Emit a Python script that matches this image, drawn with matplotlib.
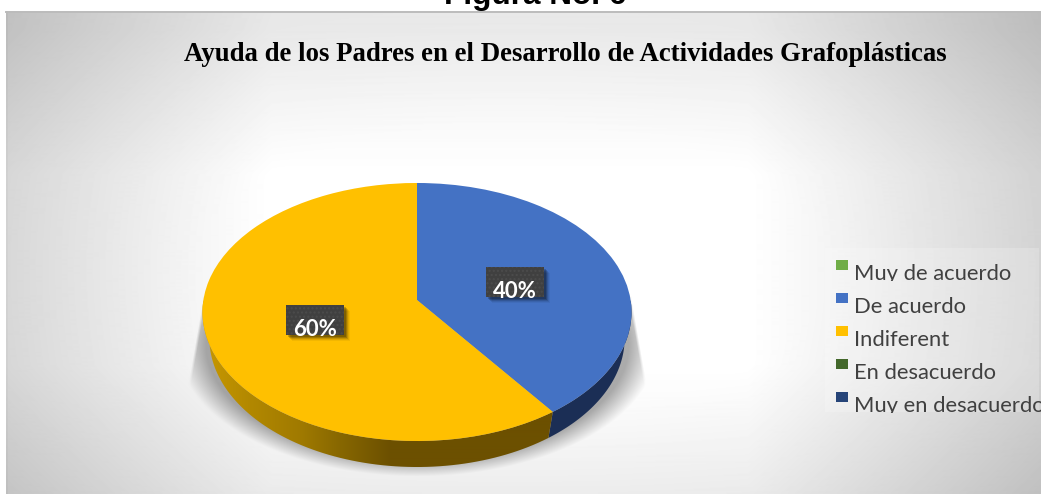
import numpy as np
import matplotlib
matplotlib.use("Agg")
import matplotlib.pyplot as plt
from matplotlib.patches import Rectangle, Polygon
from matplotlib.transforms import Transform

categories = ["Muy de acuerdo", "De acuerdo", "Indiferent", "En desacuerdo", "Muy en desacuerdo"]
values = [0, 40, 60, 0, 0]
colors = ["#70ad47", "#4472c4", "#ffc000", "#43682b", "#264478"]
chart_title = "Ayuda de los Padres en el Desarrollo de Actividades Grafoplásticas"
figure_label = "Figura No. 6"

W, H = 1041, 494
CX, CY, A, B, K = 417.0, 300.0, 213.6, 127.9, 0.093
DEPTH, SHRINK = 26.0, 0.968
LEFT, TOP = 6, 12


def project(u, v):
    d = 1 + K * v
    return CX + A * u / d, CY - B * v / d


class Perspective(Transform):
    input_dims = output_dims = 2
    def transform_non_affine(self, xy):
        xy = np.asarray(xy, float)
        x, y = project(xy[:, 0], xy[:, 1])
        return np.column_stack([x, y])


fig = plt.figure(figsize=(W / 100, H / 100), dpi=100, facecolor="white")
ax = fig.add_axes([0, 0, 1, 1])

wedges, _ = ax.pie(values, colors=colors, startangle=90, counterclock=False,
                   radius=1, wedgeprops=dict(linewidth=0))
ax.set_aspect("auto")
ax.set_xlim(0, W)
ax.set_ylim(H, 0)
ax.axis("off")
persp = Perspective()
for w in wedges:
    w.set_transform(persp + ax.transData)
    w.set_zorder(6)
    w.set_clip_on(False)

# panel background
yy, xx = np.mgrid[TOP:H, LEFT:W]
dx = np.abs(xx - 510) / 530.0
dy = np.abs(yy - 270) / 240.0
f = (38 * np.clip((dx - 0.45) / 0.55, 0, 1)
     + 16 * np.clip((dy - 0.4) / 0.6, 0, 1)
     + 14 * np.clip(np.hypot(dx, dy) - 0.6, 0, 1))
gray = 255.0 - f

# soft shadow under the pie
ds = np.sqrt(((xx - 417) / 240.0) ** 2 + ((yy - 345) / 131.0) ** 2)
hw = 214.5 + np.clip(yy - 300, 0, 85) * (15 / 85)
edge = np.clip((hw - np.abs(xx - 417)) / 3, 0, 1)
sh = np.clip((1 - ds) / 0.12, 0, 1) * edge * (yy > 296)
gray = gray * (1 - 0.33 * sh)
gray[:, :2] -= 6
ax.imshow(gray, extent=(LEFT, W, H, TOP), cmap="gray", vmin=0, vmax=255,
          aspect="auto", zorder=1, interpolation="bilinear")
ax.plot([LEFT, W], [TOP, TOP], color="#bcbcbc", lw=1.4, zorder=2)
ax.set_xlim(0, W)
ax.set_ylim(H, 0)


def side(start, end):
    """Outer wall of the pie between two clockwise-from-top angles (degrees)."""
    t = np.radians(np.linspace(start, end, 80))
    x, y = project(np.sin(t), np.cos(t))
    xb = CX + (x - CX) * SHRINK
    yb = y + DEPTH
    return np.column_stack([np.r_[x, xb[::-1]], np.r_[y, yb[::-1]]])


cum = np.cumsum(values) / np.sum(values) * 360
blue_start, blue_end = cum[0], cum[1]
yellow_start, yellow_end = cum[1], cum[2]

# blue wall (visible part only)
ax.add_patch(Polygon(side(max(blue_start, 90), blue_end), closed=True,
                     fc="#1b2e55", ec="none", zorder=4))
# yellow wall with horizontal shading
wall = Polygon(side(yellow_start, min(yellow_end, 270)), closed=True, fc="none", ec="none", zorder=4)
ax.add_patch(wall)
gx = np.arange(200, 560)
stops_x = [203, 250, 300, 340, 390, 560]
stops_r = [200, 178, 160, 135, 108, 108]
stops_g = [152, 136, 122, 103, 80, 80]
stops_b = [0, 0, 0, 0, 0, 0]
grad = np.stack([np.interp(gx, stops_x, s) for s in (stops_r, stops_g, stops_b)], axis=1)[None, :, :] / 255
im = ax.imshow(grad, extent=(200, 560, 480, 280), aspect="auto", zorder=4, interpolation="bilinear")
im.set_clip_path(wall)
ax.set_xlim(0, W)
ax.set_ylim(H, 0)

# data labels
for val, (bx, by) in zip(values[1:3], [(486, 267), (286, 305)]):
    for off, al in [(6, 0.05), (5, 0.08), (4, 0.12), (3, 0.18), (2, 0.2)]:
        ax.add_patch(Rectangle((bx + off, by + off), 58, 30, fc="black", ec="none", alpha=al, zorder=7))
    ax.add_patch(Rectangle((bx, by), 58, 30, fc="#404040", ec="#4c4c4c", lw=0, hatch="....", zorder=8))
    ax.text(bx + 29, by + 24, f"{val}%", color="white", fontsize=16, fontweight="bold",
            family="Lato", ha="center", va="center", zorder=9)

# legend
ax.add_patch(Rectangle((825, 248), 214, 164, fc="white", alpha=0.2, ec="none", zorder=3))
for i, (c, col) in enumerate(zip(categories, colors)):
    y = 260 + 33 * i
    ax.add_patch(Rectangle((836, y), 12, 10, fc=col, ec="none", zorder=5))
    t = ax.text(854, y + 20, c, fontsize=15.8, family="Lato", color="#404040",
                ha="left", va="baseline", zorder=5)
    if i in (0, 4):
        t.set_clip_path(Rectangle((850, y - 10), 191, 30.5, transform=ax.transData))
        t.set_clip_on(True)

ax.text(565.5, 61, chart_title, fontsize=19.3, fontweight="bold", family="Liberation Serif",
        ha="center", va="baseline", color="black", zorder=5)
ax.text(535, 4, figure_label, fontsize=22.7, fontweight="bold", family="Liberation Sans",
        ha="center", va="baseline", color="black", zorder=5, clip_on=True)

fig.savefig("out.png", dpi=100, facecolor="white")
